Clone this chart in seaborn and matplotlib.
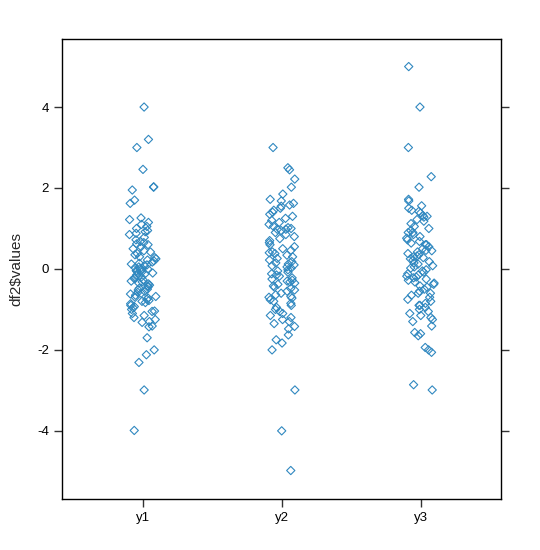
import matplotlib
matplotlib.use("Agg")
import matplotlib.pyplot as plt
import numpy as np
import pandas as pd
import seaborn as sns

# values (one list per group)
y1 = [4.0, 3.2, 3.0, 2.46, 2.02, 2.03, 1.95, 1.7, 1.62,
      1.26, 1.22, 1.1, 1.05, 1.0, 0.95, 0.92, 0.85, 0.78, 0.72, 0.68,
      0.62, 0.6, 0.55, 0.5, 0.45, 0.42, 0.38, 0.35, 0.3, 0.28, 0.25,
      0.22, 0.2, 0.17, 0.14, 0.12, 0.1, 0.08, 0.05, 0.03, 0.01, -0.02,
      -0.04, -0.06, -0.08, -0.1, -0.12, -0.15, -0.17, -0.2, -0.22, -0.24,
      -0.27, -0.3, -0.32, -0.35, -0.37, -0.4, -0.42, -0.45, -0.48, -0.5,
      -0.52, -0.55, -0.58, -0.6, -0.62, -0.65, -0.68, -0.7, -0.72, -0.75,
      -0.78, -0.8, -0.83, -0.86, -0.9, -0.93, -0.96, -1.0, -1.1, -1.15,
      -1.2, -1.25, 0.0, 0.65, 1.15, 0.88,
      -1.04, -1.05, -1.43, -1.32, -1.41, -1.3, -1.7, -2.0, -2.12, -2.31,
      -2.99, -3.99]
y2 = [3.0, 2.5, 2.45, 2.22, 2.02, 1.85, 1.72,
      1.68, 1.62, 1.58, 1.55, 1.5, 1.45, 1.4, 1.35, 1.3, 1.25, 1.2, 1.15,
      1.1, 1.05, 1.02, 0.98, 0.95, 0.9, 0.85, 0.8, 0.75, 0.7, 0.65, 0.6,
      0.55, 0.5, 0.46, 0.42, 0.38, 0.34, 0.3, 0.26, 0.22, 0.18, 0.15,
      0.12, 0.08, 0.05, 0.02, -0.02, -0.05, -0.08, -0.12, -0.15, -0.18,
      -0.22, -0.25, -0.28, -0.32, -0.35, -0.38, -0.42, -0.45, -0.48,
      -0.52, -0.55, -0.6, -0.64, -0.68, -0.72, -0.76, -0.8, -0.85, -0.9,
      -0.95, -1.0, -1.05, -1.1, -1.15, -1.2, -1.25, -1.3, -1.35, -1.42,
      -1.48, 0.98, 0.1, -0.3, 1.0, -0.7, 0.4,
      -1.63, -1.75, -1.83, -2.0, -2.99, -4.0, -4.98]
y3 = [5.0, 4.0, 3.0, 2.28, 2.02, 1.72, 1.68, 1.56,
      1.5, 1.45, 1.42, 1.38, 1.32, 1.28, 1.22, 1.18, 1.12, 1.05, 1.0,
      0.95, 0.9, 0.85, 0.8, 0.76, 0.72, 0.68, 0.64, 0.6, 0.55, 0.5,
      0.46, 0.42, 0.38, 0.35, 0.32, 0.28, 0.25, 0.22, 0.18, 0.15, 0.12,
      0.08, 0.05, 0.02, -0.02, -0.05, -0.08, -0.12, -0.15, -0.18, -0.22,
      -0.25, -0.28, -0.32, -0.35, -0.38, -0.42, -0.45, -0.5, -0.55, -0.6,
      -0.65, -0.7, -0.75, -0.8, -0.85, -0.9, -0.95, -1.0, -1.05, -1.1,
      -1.15, -1.2, -1.25, -1.3, 0.3, 0.45, -0.2, 0.9, 0.6, -0.6, 1.3, -0.9,
      -1.6, -1.65, -1.57, -1.41, -1.94, -2.0, -2.06, -2.86, -2.99]

groups = ["y1", "y2", "y3"]
y_ticks = [-4, -2, 0, 2, 4]

df2 = pd.DataFrame({
    "ind": ["y1"] * len(y1) + ["y2"] * len(y2) + ["y3"] * len(y3),
    "values": y1 + y2 + y3,
})

sns.set_style("white")
plt.rcParams["font.family"] = ["Liberation Sans", "DejaVu Sans"]
plt.rcParams["axes.unicode_minus"] = False

fig = plt.figure(figsize=(5.4, 5.5), dpi=100)
ax = fig.add_axes([0.115, 0.093, 0.813, 0.836])

np.random.seed(3)
sns.stripplot(data=df2, x="ind", y="values", order=groups, jitter=0.1,
              marker="D", size=4.2, ax=ax)
for coll in ax.collections:
    coll.set_facecolor("none")
    coll.set_edgecolor("#3088c0")
    coll.set_linewidth(0.8)

ax.set_xlim(-0.58, 2.58)
ax.set_ylim(-5.68, 5.68)
ax.set_yticks(y_ticks)
ax.set_yticklabels([str(t) for t in y_ticks])
ax.set_xlabel("")
ax.set_ylabel("df2$values", fontsize=11, labelpad=10)

for side in ax.spines.values():
    side.set_color("black")
    side.set_linewidth(1.0)
ax.tick_params(axis="both", direction="out", length=6, width=1,
               color="#333333", labelsize=9.5, labelcolor="black",
               left=True, right=True, bottom=True, top=False,
               labelright=False, labeltop=False)

fig.savefig("out.png", dpi=100, facecolor="white")
